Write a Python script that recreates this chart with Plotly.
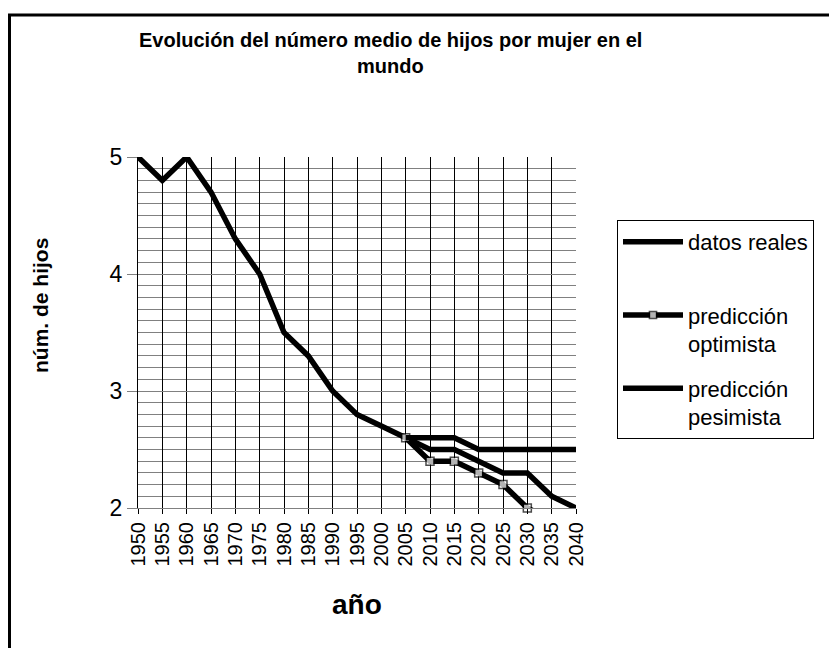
import plotly.graph_objects as go

years = [1950, 1955, 1960, 1965, 1970, 1975, 1980, 1985, 1990, 1995, 2000, 2005,
         2010, 2015, 2020, 2025, 2030, 2035, 2040]
datos_reales = [5.0, 4.8, 5.0, 4.7, 4.3, 4.0, 3.5, 3.3, 3.0, 2.8, 2.7, 2.6,
                2.5, 2.5, 2.4, 2.3, 2.3, 2.1, 2.0]
pred_optimista = [None] * 11 + [2.6, 2.4, 2.4, 2.3, 2.2, 2.0, 1.9, 1.8]
pred_pesimista = [None] * 11 + [2.6, 2.6, 2.6, 2.5, 2.5, 2.5, 2.5, 2.5]

series_names = ["datos reales", "predicción<br>optimista", "predicción<br>pesimista"]
title_lines = ["Evolución del número medio de hijos por mujer en el", "mundo"]
x_title = "año"
y_title = "núm. de hijos"

FONT = "Arial, Liberation Sans, sans-serif"
W, H = 837, 648
O = 8  # page body margin offset
L, R, T, B = 138 - O, 576 - O, 157 - O, 508 - O  # plot area in figure pixels


def px(x):
    return (x - O - L) / (R - L)


def py(y):
    return (B - (y - O)) / (B - T)


# hide markers of points that fall below the axis range (they would not be clipped)
opt_sizes = [0 if (v is not None and v < 2) else 8 for v in pred_optimista]

fig = go.Figure()
fig.add_trace(go.Scatter(x=years, y=datos_reales, name=series_names[0] + "<br>&nbsp;",
                         mode="lines", line=dict(color="black", width=5.5),
                         legendgroup="a"))
fig.add_trace(go.Scatter(x=years, y=pred_optimista, name=series_names[1],
                         mode="lines+markers", line=dict(color="black", width=5.5),
                         marker=dict(symbol="square", size=opt_sizes, color="white",
                                     line=dict(color="black", width=1.5)),
                         cliponaxis=False, legendgroup="b"))
fig.add_trace(go.Scatter(x=years, y=pred_pesimista, name=series_names[2],
                         mode="lines", line=dict(color="black", width=5.5),
                         legendgroup="c"))

fig.update_layout(
    width=W, height=H,
    margin=dict(l=L, r=W - R, t=T, b=H - B, autoexpand=False),
    paper_bgcolor="white", plot_bgcolor="white",
    font=dict(family=FONT, color="black"),
    showlegend=True,
    legend=dict(x=px(617), y=py(220), xanchor="left", yanchor="top",
                bordercolor="black", borderwidth=1, bgcolor="white",
                font=dict(size=22, family=FONT), tracegroupgap=13,
                itemwidth=60, valign="top"),
)

fig.update_xaxes(range=[1950, 2040], tick0=1950, dtick=5, showgrid=True,
                 gridcolor="black", gridwidth=1, ticks="outside", ticklen=5,
                 tickcolor="black", tickangle=-90, tickfont=dict(size=20),
                 showline=True, linecolor="#808080", linewidth=1, zeroline=False)
fig.update_yaxes(range=[2, 5], tick0=2, dtick=1, showgrid=True, gridcolor="#808080",
                 gridwidth=1, ticks="outside", ticklen=10, tickcolor="#808080",
                 tickfont=dict(size=23), showline=True, linecolor="black",
                 linewidth=1, zeroline=False,
                 minor=dict(dtick=0.1, showgrid=True, gridcolor="#808080",
                            gridwidth=1, ticks=""))

# outer chart border
fig.add_shape(type="rect", xref="paper", yref="paper",
              x0=px(9.5), x1=px(880), y0=py(15), y1=py(700),
              line=dict(color="black", width=3), fillcolor="rgba(0,0,0,0)", layer="below")

fig.add_annotation(text="<b>" + title_lines[0] + "</b>", xref="paper", yref="paper",
                   x=px(390), y=py(40), showarrow=False, font=dict(size=20),
                   xanchor="center", yanchor="middle")
fig.add_annotation(text="<b>" + title_lines[1] + "</b>", xref="paper", yref="paper",
                   x=px(390), y=py(66), showarrow=False, font=dict(size=20),
                   xanchor="center", yanchor="middle")
fig.add_annotation(text="<b>" + x_title + "</b>", xref="paper", yref="paper",
                   x=px(357), y=py(604), showarrow=False, font=dict(size=28),
                   xanchor="center", yanchor="middle")
fig.add_annotation(text="<b>" + y_title + "</b>", xref="paper", yref="paper",
                   x=px(40), y=py(306), showarrow=False, font=dict(size=21),
                   textangle=-90, xanchor="center", yanchor="middle")

fig.write_html("out.html")
